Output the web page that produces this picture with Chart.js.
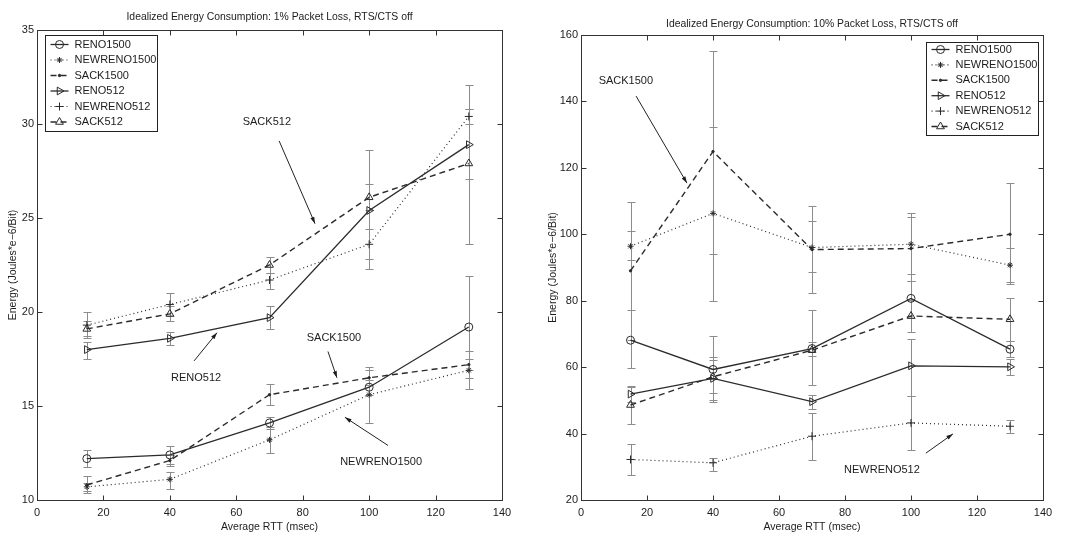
<!DOCTYPE html>
<html>
<head>
<meta charset="utf-8">
<script src="https://cdn.jsdelivr.net/npm/chart.js@4/dist/chart.umd.min.js"></script>
<style>
  body { margin: 0; background: #fff; }
  #wrap { position: relative; width: 1073px; height: 539px; }
  #c1 { position: absolute; left: 0; top: 0; }
  #c2 { position: absolute; left: 533px; top: 0; }
</style>
</head>
<body>
<div id="wrap">
  <canvas id="c1" width="533" height="539"></canvas>
  <canvas id="c2" width="540" height="539"></canvas>
</div>
<script>
// x positions (Average RTT, msec)
const rtt = [15, 40, 70, 100, 130];
const seriesNames = ['RENO1500', 'NEWRENO1500', 'SACK1500', 'RENO512', 'NEWRENO512', 'SACK512'];

// 1% packet loss: means and error bar ends
const p1Reno1500      = [12.2, 12.4, 14.1, 16.0, 19.2];
const p1Reno1500Lo    = [11.75, 11.9, 13.8, 15.6, 16.5];
const p1Reno1500Hi    = [12.65, 12.85, 14.4, 16.4, 21.9];
const p1Newreno1500   = [10.7, 11.1, 13.2, 15.6, 16.9];
const p1Newreno1500Lo = [10.5, 10.6, 12.5, 14.1, 15.9];
const p1Newreno1500Hi = [10.9, 11.5, 13.9, 17.1, 17.9];
const p1Sack1500      = [10.8, 12.1, 15.6, 16.5, 17.2];
const p1Sack1500Lo    = [10.35, 11.8, 15.05, 16.1, 16.9];
const p1Sack1500Hi    = [11.3, 12.4, 16.15, 16.9, 17.5];
const p1Reno512       = [18.0, 18.6, 19.7, 25.4, 28.9];
const p1Reno512Lo     = [17.5, 18.25, 19.1, 22.3, 27.1];
const p1Reno512Hi     = [18.4, 18.95, 20.3, 28.6, 30.8];
const p1Newreno512    = [19.3, 20.4, 21.7, 23.6, 30.4];
const p1Newreno512Lo  = [18.6, 19.8, 21.2, 22.8, 30.0];
const p1Newreno512Hi  = [20.0, 21.0, 22.1, 24.4, 30.8];
const p1Sack512       = [19.1, 19.9, 22.5, 26.1, 27.9];
const p1Sack512Lo     = [18.7, 19.5, 22.1, 25.4, 23.6];
const p1Sack512Hi     = [19.5, 20.3, 22.9, 26.8, 32.1];

// 10% packet loss
const p10Reno1500      = [68.1, 59.3, 65.6, 80.7, 65.4];
const p10Reno1500Lo    = [59.6, 49.6, 54.6, 74.7, 63.0];
const p10Reno1500Hi    = [77.2, 69.5, 77.2, 86.0, 67.8];
const p10Newreno1500   = [96.4, 106.3, 96.0, 97.0, 90.7];
const p10Newreno1500Lo = [92.2, 80.0, 88.7, 88.0, 85.6];
const p10Newreno1500Hi = [101.1, 132.4, 104.1, 106.5, 95.8];
const p10Sack1500      = [89.0, 124.9, 95.4, 95.7, 100.0];
const p10Sack1500Lo    = [68.2, 94.0, 82.4, 86.0, 85.0];
const p10Sack1500Hi    = [109.8, 155.3, 108.5, 105.1, 115.5];
const p10Reno512       = [51.9, 56.6, 49.6, 60.4, 60.1];
const p10Reno512Lo     = [49.6, 50.1, 47.5, 51.3, 57.6];
const p10Reno512Hi     = [54.2, 63.1, 51.7, 68.4, 62.6];
const p10Newreno512    = [32.2, 31.2, 39.2, 43.2, 42.2];
const p10Newreno512Lo  = [27.5, 28.8, 32.0, 35.0, 40.2];
const p10Newreno512Hi  = [36.8, 32.7, 46.1, 51.3, 44.1];
const p10Sack512       = [48.6, 57.1, 65.1, 75.4, 74.4];
const p10Sack512Lo     = [42.8, 52.1, 63.3, 70.5, 68.0];
const p10Sack512Hi     = [54.1, 62.1, 67.6, 80.3, 80.7];

const FONT = "'Liberation Sans', Arial, Helvetica, sans-serif";
const INK = '#1c1c1c';

const looks = [
  { dash: [],     ps: 'circle',   rot: 0,  r: 4,   w: 1.3, fill: false },
  { dash: [1, 3], ps: 'star',     rot: 0,  r: 3,   w: 1.2, fill: false },
  { dash: [6, 4], ps: 'circle',   rot: 0,  r: 1.2, w: 1.4, fill: true },
  { dash: [],     ps: 'triangle', rot: 90, r: 4.5, w: 1.3, fill: false },
  { dash: [1, 3], ps: 'cross',    rot: 0,  r: 4,   w: 1.2, fill: false },
  { dash: [6, 4], ps: 'triangle', rot: 0,  r: 4.5, w: 1.4, fill: false }
];

function makeSets(vals, lows, highs) {
  return seriesNames.map((name, i) => ({
    label: name,
    data: rtt.map((x, j) => ({ x: x, y: vals[i][j] })),
    errLow: lows[i],
    errHigh: highs[i],
    borderColor: '#2b2b2b',
    borderWidth: looks[i].w,
    borderDash: looks[i].dash,
    pointStyle: looks[i].ps,
    pointRotation: looks[i].rot,
    pointRadius: looks[i].r,
    pointHoverRadius: looks[i].r,
    pointBorderColor: '#2b2b2b',
    pointBorderWidth: 1,
    pointBackgroundColor: looks[i].fill ? '#2b2b2b' : 'rgba(0,0,0,0)',
    tension: 0,
    fill: false
  }));
}

// vertical error bars with caps
const errorBars = {
  id: 'errorBars',
  beforeDatasetsDraw(chart) {
    const { ctx, scales: { x, y } } = chart;
    ctx.save();
    ctx.strokeStyle = '#8c8c8c';
    ctx.lineWidth = 1;
    chart.data.datasets.forEach(ds => {
      ds.data.forEach((p, j) => {
        const px = Math.round(x.getPixelForValue(p.x)) + 0.5;
        const lo = Math.round(y.getPixelForValue(ds.errLow[j])) + 0.5;
        const hi = Math.round(y.getPixelForValue(ds.errHigh[j])) + 0.5;
        ctx.beginPath();
        ctx.moveTo(px, lo); ctx.lineTo(px, hi);
        ctx.moveTo(px - 4, lo); ctx.lineTo(px + 4, lo);
        ctx.moveTo(px - 4, hi); ctx.lineTo(px + 4, hi);
        ctx.stroke();
      });
    });
    ctx.restore();
  }
};

// box around the plot and inward ticks on all four sides
const frame = {
  id: 'frame',
  beforeDatasetsDraw(chart) {
    const { ctx, chartArea: a, scales: { x, y } } = chart;
    const L = Math.round(a.left) + 0.5, R = Math.round(a.right) + 0.5;
    const T = Math.round(a.top) + 0.5, B = Math.round(a.bottom) + 0.5;
    ctx.save();
    ctx.strokeStyle = '#333';
    ctx.lineWidth = 1;
    ctx.strokeRect(L, T, R - L, B - T);
    ctx.beginPath();
    x.ticks.forEach(t => {
      const px = Math.round(x.getPixelForValue(t.value)) + 0.5;
      ctx.moveTo(px, B); ctx.lineTo(px, B - 5);
      ctx.moveTo(px, T); ctx.lineTo(px, T + 5);
    });
    y.ticks.forEach(t => {
      const py = Math.round(y.getPixelForValue(t.value)) + 0.5;
      ctx.moveTo(L, py); ctx.lineTo(L + 5, py);
      ctx.moveTo(R, py); ctx.lineTo(R - 5, py);
    });
    ctx.stroke();
    ctx.restore();
  }
};

// arrows and text labels in data coordinates
const notes = {
  id: 'notes',
  afterDatasetsDraw(chart, args, opts) {
    const { ctx, scales: { x, y } } = chart;
    ctx.save();
    ctx.font = '11px ' + FONT;
    ctx.fillStyle = INK;
    ctx.strokeStyle = '#222';
    ctx.lineWidth = 1;
    ctx.textAlign = 'center';
    ctx.textBaseline = 'middle';
    (opts.items || []).forEach(n => {
      ctx.fillText(n.text, x.getPixelForValue(n.at[0]), y.getPixelForValue(n.at[1]));
      const x1 = x.getPixelForValue(n.from[0]), y1 = y.getPixelForValue(n.from[1]);
      const x2 = x.getPixelForValue(n.to[0]), y2 = y.getPixelForValue(n.to[1]);
      ctx.beginPath(); ctx.moveTo(x1, y1); ctx.lineTo(x2, y2); ctx.stroke();
      const ang = Math.atan2(y2 - y1, x2 - x1);
      ctx.beginPath();
      ctx.moveTo(x2, y2);
      ctx.lineTo(x2 - 7 * Math.cos(ang - 0.3), y2 - 7 * Math.sin(ang - 0.3));
      ctx.lineTo(x2 - 7 * Math.cos(ang + 0.3), y2 - 7 * Math.sin(ang + 0.3));
      ctx.closePath();
      ctx.fill();
    });
    ctx.restore();
  }
};

// boxed legend inside the plot, MATLAB style
const boxLegend = {
  id: 'boxLegend',
  afterDatasetsDraw(chart, args, opts) {
    const { ctx, chartArea: a } = chart;
    const w = opts.width, h = opts.height;
    const x0 = Math.round(opts.side === 'left' ? a.left + opts.dx : a.right - opts.dx - w) + 0.5;
    const y0 = Math.round(a.top + opts.dy) + 0.5;
    ctx.save();
    ctx.fillStyle = '#fff';
    ctx.fillRect(x0, y0, w, h);
    ctx.strokeStyle = '#222';
    ctx.lineWidth = 1;
    ctx.strokeRect(x0, y0, w, h);
    ctx.font = '11px ' + FONT;
    ctx.textBaseline = 'middle';
    chart.data.datasets.forEach((ds, i) => {
      const cy = y0 + opts.first + i * opts.row;
      ctx.strokeStyle = ds.borderColor;
      ctx.lineWidth = ds.borderWidth;
      ctx.setLineDash(ds.borderDash);
      ctx.beginPath(); ctx.moveTo(x0 + 5, cy); ctx.lineTo(x0 + 23, cy); ctx.stroke();
      ctx.setLineDash([]);
      ctx.lineWidth = 1;
      ctx.fillStyle = ds.pointBackgroundColor;
      Chart.helpers.drawPoint(ctx, {
        pointStyle: ds.pointStyle, rotation: ds.pointRotation,
        radius: ds.pointRadius, borderWidth: 1
      }, x0 + 14, cy);
      ctx.fillStyle = INK;
      ctx.fillText(ds.label, x0 + 29, cy);
    });
    ctx.restore();
  }
};

function makeChart(id, cfg) {
  return new Chart(document.getElementById(id), {
    type: 'line',
    data: { datasets: makeSets(cfg.vals, cfg.lows, cfg.highs) },
    plugins: [frame, errorBars, notes, boxLegend],
    options: {
      responsive: false,
      animation: false,
      events: [],
      layout: { padding: { left: 0, right: cfg.padRight, top: 0, bottom: 0 } },
      plugins: {
        legend: { display: false },
        tooltip: { enabled: false },
        title: {
          display: true,
          text: cfg.title,
          fullSize: false,
          color: INK,
          font: { family: FONT, size: 10.4, weight: 'normal' },
          padding: cfg.titlePad
        },
        notes: { items: cfg.notes },
        boxLegend: cfg.legend
      },
      scales: {
        x: {
          type: 'linear',
          min: 0, max: 140,
          grid: { display: false, drawTicks: false },
          border: { display: false },
          ticks: { stepSize: 20, padding: 6, color: INK, font: { family: FONT, size: 11 } },
          title: {
            display: true, text: 'Average RTT (msec)', color: INK,
            font: { family: FONT, size: 10.5 }, padding: { top: 0, bottom: 6 }
          },
          afterFit: s => { s.height = 39; }
        },
        y: {
          type: 'linear',
          min: cfg.yMin, max: cfg.yMax,
          grid: { display: false, drawTicks: false },
          border: { display: false },
          ticks: { stepSize: cfg.yStep, padding: 3, color: INK, font: { family: FONT, size: 11 } },
          title: {
            display: true, text: 'Energy (Joules*e\u22126/Bit)', color: INK,
            font: { family: FONT, size: 10.5 }, padding: { top: cfg.yTitlePad, bottom: 0 }
          },
          afterFit: s => { s.width = cfg.yWidth; }
        }
      }
    }
  });
}

makeChart('c1', {
  title: 'Idealized Energy Consumption: 1% Packet Loss, RTS/CTS off',
  vals:  [p1Reno1500, p1Newreno1500, p1Sack1500, p1Reno512, p1Newreno512, p1Sack512],
  lows:  [p1Reno1500Lo, p1Newreno1500Lo, p1Sack1500Lo, p1Reno512Lo, p1Newreno512Lo, p1Sack512Lo],
  highs: [p1Reno1500Hi, p1Newreno1500Hi, p1Sack1500Hi, p1Reno512Hi, p1Newreno512Hi, p1Sack512Hi],
  yMin: 10, yMax: 35, yStep: 5,
  yWidth: 37, yTitlePad: 7, padRight: 31,
  titlePad: { top: 11, bottom: 6.5 },
  legend: { side: 'left', dx: 8, dy: 5, width: 112, height: 96, first: 9, row: 15.5 },
  notes: [
    { text: 'SACK512',     at: [69.2, 30.1],  from: [72.9, 29.1],  to: [83.7, 24.7] },
    { text: 'RENO512',     at: [47.9, 16.5],  from: [47.3, 17.4],  to: [54.2, 18.9] },
    { text: 'SACK1500',    at: [89.4, 18.6],  from: [87.6, 17.9],  to: [90.3, 16.5] },
    { text: 'NEWRENO1500', at: [103.6, 12.0], from: [105.7, 12.9], to: [92.7, 14.4] }
  ]
});

makeChart('c2', {
  title: 'Idealized Energy Consumption: 10% Packet Loss, RTS/CTS off',
  vals:  [p10Reno1500, p10Newreno1500, p10Sack1500, p10Reno512, p10Newreno512, p10Sack512],
  lows:  [p10Reno1500Lo, p10Newreno1500Lo, p10Sack1500Lo, p10Reno512Lo, p10Newreno512Lo, p10Sack512Lo],
  highs: [p10Reno1500Hi, p10Newreno1500Hi, p10Sack1500Hi, p10Reno512Hi, p10Newreno512Hi, p10Sack512Hi],
  yMin: 20, yMax: 160, yStep: 20,
  yWidth: 48, yTitlePad: 14, padRight: 30,
  titlePad: { top: 18, bottom: 4.5 },
  legend: { side: 'right', dx: 5, dy: 7, width: 112, height: 93, first: 7, row: 15.4 },
  notes: [
    { text: 'SACK1500',   at: [13.6, 146.1], from: [16.7, 141.6], to: [32.1, 115.4] },
    { text: 'NEWRENO512', at: [91.2, 29.0],  from: [104.5, 34.1], to: [112.7, 39.9] }
  ]
});
</script>
</body>
</html>
